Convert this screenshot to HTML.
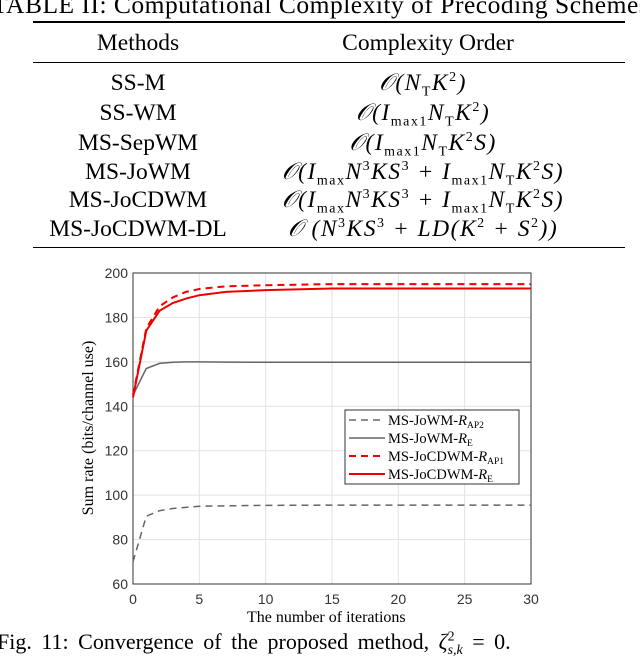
<!DOCTYPE html>
<html><head><meta charset="utf-8"><style>
body{margin:0;width:640px;height:655px;overflow:hidden;background:#fff;font-family:"Liberation Serif",serif;color:#000}
.t{position:absolute;white-space:nowrap}
.r{position:absolute;left:33px;width:592px;background:#000}
.row{position:absolute;font-size:23.5px;line-height:24px;white-space:nowrap;transform:translateX(-50%)}
.m{left:138px}.c{left:423px;font-style:italic;letter-spacing:1.5px}
sub,sup{font-size:14px;line-height:0;font-style:normal}
</style></head><body>
<div class="t" style="left:-8px;top:-10px;font-size:25.5px;letter-spacing:0.5px">TABLE II: Computational Complexity of Precoding Schemes</div>
<div class="r" style="top:21px;height:2px"></div>
<div class="row m" style="top:31px">Methods</div>
<div class="row" style="top:31px;left:428px">Complexity Order</div>
<div class="r" style="top:62px;height:1px"></div>
<div class="row m" style="top:71px">SS-M</div>
<div class="row m" style="top:101px">SS-WM</div>
<div class="row m" style="top:131px">MS-SepWM</div>
<div class="row m" style="top:160px">MS-JoWM</div>
<div class="row m" style="top:188px">MS-JoCDWM</div>
<div class="row m" style="top:217px">MS-JoCDWM-DL</div>
<div class="row c" style="top:71px">𝒪(N<sub>T</sub>K<sup>2</sup>)</div>
<div class="row c" style="top:101px">𝒪(I<sub>max1</sub>N<sub>T</sub>K<sup>2</sup>)</div>
<div class="row c" style="top:131px">𝒪(I<sub>max1</sub>N<sub>T</sub>K<sup>2</sup>S)</div>
<div class="row c" style="top:160px">𝒪(I<sub>max</sub>N<sup>3</sup>KS<sup>3</sup> + I<sub>max1</sub>N<sub>T</sub>K<sup>2</sup>S)</div>
<div class="row c" style="top:188px">𝒪(I<sub>max</sub>N<sup>3</sup>KS<sup>3</sup> + I<sub>max1</sub>N<sub>T</sub>K<sup>2</sup>S)</div>
<div class="row c" style="top:217px">𝒪 (N<sup>3</sup>KS<sup>3</sup> + LD(K<sup>2</sup> + S<sup>2</sup>))</div>
<div class="r" style="top:247px;height:1px"></div>

<svg id="chart" style="position:absolute;left:0;top:0" width="640" height="655"></svg>
<div class="t" style="left:247px;top:609px;font-size:16px">The number of iterations</div>
<div class="t" style="left:89px;top:428px;font-size:16px;transform:translate(-50%,-50%) rotate(-90deg)">Sum rate (bits/channel use)</div>
<div class="t" style="left:-3px;top:629px;font-size:22px;word-spacing:4px">Fig. 11: Convergence of the proposed method, <i>ζ</i><sup>2</sup><sub style="font-style:italic;margin-left:-7px">s,k</sub> = 0.</div>
<script>
const iters=[0,1,2,3,4,5,7,10,15,30];
const joWmAp2=[70,90.5,93,94,94.5,95,95.2,95.4,95.5,95.5];
const joWmE=[145,157,159.3,159.8,160,160,159.9,159.8,159.8,159.8];
const joCdAp1=[145,175,185,189,191.5,192.8,194,194.5,195,195];
const joCdE=[144,174,183,186.5,188.5,190,191.5,192.3,193,193];
const xTicks=[0,5,10,15,20,25,30];
const yTicks=[60,80,100,120,140,160,180,200];
const L=133,R=531,T=273,B=584;
const X=v=>L+(v-0)/30*(R-L), Y=v=>B-(v-60)/140*(B-T);
const svg=document.getElementById('chart');const NS='http://www.w3.org/2000/svg';
function el(t,a,p){const e=document.createElementNS(NS,t);for(const k in a)e.setAttribute(k,a[k]);(p||svg).appendChild(e);return e;}
for(const v of xTicks){
 const g=el('line',{x1:X(v),x2:X(v),y1:T,y2:B,stroke:'#e2e2e2','stroke-width':1});
 
 
 const t=el('text',{x:X(v),y:B+20,'text-anchor':'middle','font-size':14,'font-family':'Liberation Sans, sans-serif',fill:'#333'});
 t.textContent=v;
 
 
}
for(const v of yTicks){
 const g=el('line',{x1:L,x2:R,y1:Y(v),y2:Y(v),stroke:'#e2e2e2','stroke-width':1});
 
 
 const t=el('text',{x:L-5,y:Y(v)+5,'text-anchor':'end','font-size':14,'font-family':'Liberation Sans, sans-serif',fill:'#333'});
 t.textContent=v;
 
 
}
const box=el('rect',{x:L,y:T,width:R-L,height:B-T,fill:'none',stroke:'#333','stroke-width':1});


const series=[[joWmAp2,'#666','7,5','series-jowm-ap2'],[joWmE,'#666','','series-jowm-e'],[joCdAp1,'#e00','7,5','series-jocdwm-ap1'],[joCdE,'#e00','','series-jocdwm-e']];
for(const [d,c,da,n] of series){
 const p=el('polyline',{points:iters.map((x,i)=>X(x)+','+Y(d[i])).join(' '),fill:'none',stroke:c,'stroke-width':c=='#e00'?2:1.5,'stroke-dasharray':da});
 
 
}
const lg=el('rect',{x:345,y:410,width:174,height:74,fill:'#fff',stroke:'#333','stroke-width':1});


const labels=[['MS-JoWM-','AP2'],['MS-JoWM-','E'],['MS-JoCDWM-','AP1'],['MS-JoCDWM-','E']];
series.forEach(([d,c,da,n],i)=>{
 const y=420+i*18;
 const l=el('line',{x1:349,x2:385,y1:y,y2:y,stroke:c,'stroke-width':c=='#e00'?2:1.5,'stroke-dasharray':da});
 
 
 const t=el('text',{x:388,y:y+5,'font-size':14.5,'font-family':'Liberation Serif, serif'});
 t.innerHTML=labels[i][0]+'<tspan font-style="italic">R</tspan><tspan font-size="9.5" dy="3">'+labels[i][1]+'</tspan>';
 
 
});
</script>
</body></html>
